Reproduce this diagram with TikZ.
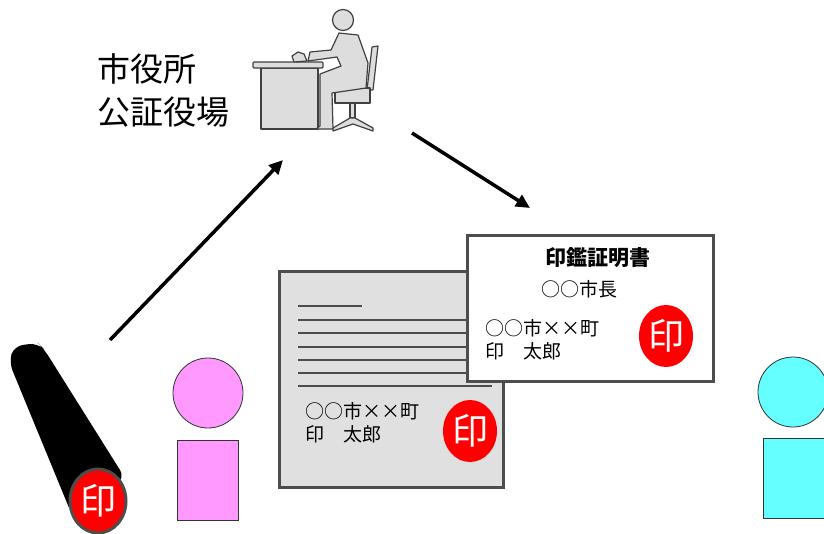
\documentclass[tikz,border=0pt]{standalone}
\usepackage{fontspec}
\setmainfont{Noto Sans CJK JP}
\usetikzlibrary{arrows.meta, positioning}
\usetikzlibrary{shapes.geometric}

\definecolor{edgegray}{HTML}{4D4D4D}
\definecolor{sheetgray}{HTML}{E0E0E0}
\definecolor{officegray}{HTML}{DDDDDD}
\definecolor{pinkbody}{HTML}{FF99FF}
\definecolor{cyanbody}{HTML}{66FFFF}

\begin{document}
\begin{tikzpicture}[x=1pt, y=-1pt,
  sheet/.style={draw=edgegray, line width=3pt},
  rule/.style={edgegray, line width=2.5pt},
  seal/.style={ellipse, fill=red, text=white, inner sep=0pt,
    minimum width=54pt, minimum height=62pt, font=\fontsize{36}{36}\selectfont},
  worker/.style={fill=officegray, draw=black!75, line width=1.2pt, line join=round},
  person/.style={draw=black!80, line width=0.8pt},
  flow/.style={-{Triangle[length=14pt,width=13pt]}, line width=3.5pt},
  doctext/.style={anchor=west, align=left, font=\fontsize{19}{23}\selectfont}]

\useasboundingbox (0,0) rectangle (824,533);
\clip (0,0) rectangle (824,533);

% office: desk, chair and clerk
\draw[worker] (261,68) rectangle (318,129);
\draw[worker, rounded corners=1pt] (253,62) rectangle (323,68);
\draw[worker] (292,56) -- (298,52) -- (304,54) -- (307,61) -- (294,62) -- cycle;
\draw[worker] (372,47) -- (378,46) -- (373,90) -- (367,90) -- cycle;
\draw[worker] (335,88) rectangle (370,103);
\draw[worker] (350,103) rectangle (355,118);
\draw[worker] (333,128) -- (350,118) -- (355,118) -- (373,128) -- (373,131)
  -- (353,124) -- (333,131) -- cycle;
\draw[worker] (339,33) -- (331,50) -- (310,52) -- (308,61) -- (337,57) -- (341,66)
  -- (320,74) -- (320,126) -- (316,129) -- (333,129) -- (332,93) -- (366,88)
  -- (368,63) -- (358,35) -- cycle;
\draw[worker] (343,20) circle[radius=10.5];

\node[anchor=north west, align=left, font=\fontsize{33}{43}\selectfont]
  (office) at (94,50) {市役所\\公証役場};

% arrows
\coordinate (stampTop) at (110,340);
\coordinate (officeIn) at (283,160);
\coordinate (officeOut) at (412,133);
\coordinate (certIn) at (530,208);
\draw[flow] (stampTop) -- (officeIn);
\draw[flow] (officeOut) -- (certIn);

% stamp
\fill[black, rounded corners=9pt] (9,362) -- (14,346) -- (38,343) -- (44,349)
  -- (125,478) -- (72,515) -- cycle;
\node[seal, draw=edgegray, line width=3pt, minimum width=56pt, minimum height=64pt]
  (stampFace) at (98,501) {印};

% people
\draw[person, fill=pinkbody] (208,393) circle[radius=35];
\draw[person, fill=pinkbody] (177,440) rectangle (238,520);
\draw[person, fill=cyanbody] (793,392) circle[radius=35];
\draw[person, fill=cyanbody] (763,438) rectangle (840,518);

% registered seal document
\draw[sheet, fill=sheetgray] (279,271) rectangle (503,487);
\draw[rule] (298,306) -- (362,306);
\foreach \y in {320,333,347,360,373,386} {
  \draw[rule] (298,\y) -- (492,\y);
}
\node[doctext] (addr1) at (302,423) {○○市××町\\印　太郎};
\node[seal] (seal1) at (470,431) {印};

% certificate
\draw[sheet, fill=white] (467,235) rectangle (713,381);
\node[font=\fontsize{21}{21}\selectfont\bfseries] (title) at (598,258) {印鑑証明書};
\node[font=\fontsize{19}{19}\selectfont] (mayor) at (579,289) {○○市長};
\node[doctext] (addr2) at (482,340) {○○市××町\\印　太郎};
\node[seal] (seal2) at (666,336) {印};
\end{tikzpicture}
\end{document}
